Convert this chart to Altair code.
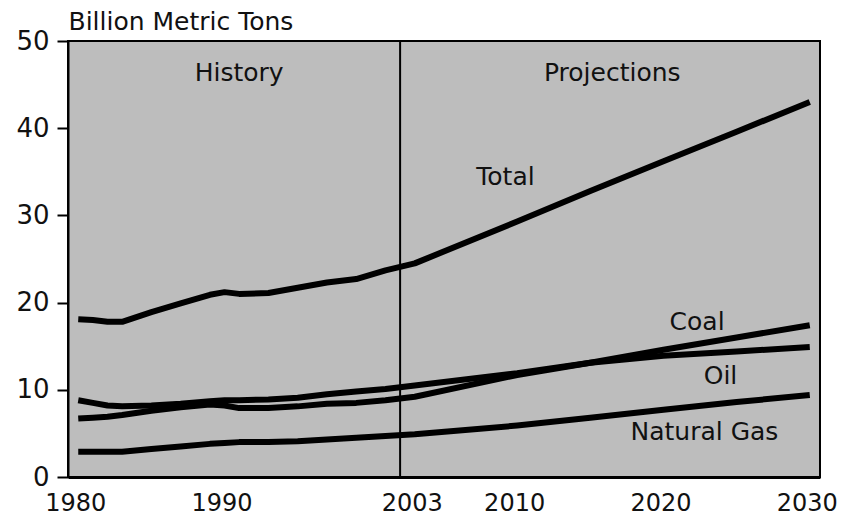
import altair as alt
import pandas as pd

years = [1980, 1981, 1982, 1983, 1985, 1987, 1989, 1990, 1991, 1993, 1995,
         1997, 1999, 2001, 2003, 2010, 2015, 2020, 2025, 2030]
total = [18.1, 18.0, 17.8, 17.8, 18.9, 19.9, 20.9, 21.2, 21.0, 21.1, 21.7,
         22.3, 22.7, 23.7, 24.5, 29.3, 32.8, 36.2, 39.6, 43.0]
coal = [6.7, 6.8, 6.9, 7.1, 7.6, 8.0, 8.3, 8.2, 7.9, 7.9, 8.1,
        8.4, 8.5, 8.8, 9.2, 11.7, 13.1, 14.6, 16.0, 17.4]
oil = [8.8, 8.5, 8.2, 8.1, 8.2, 8.4, 8.7, 8.8, 8.8, 8.9, 9.1,
       9.5, 9.8, 10.1, 10.5, 11.9, 13.1, 13.9, 14.4, 14.9]
gas = [2.9, 2.9, 2.9, 2.9, 3.2, 3.5, 3.8, 3.9, 4.0, 4.0, 4.1,
       4.3, 4.5, 4.7, 4.9, 5.9, 6.8, 7.7, 8.6, 9.4]

tick_years = [1980, 1990, 2003, 2010, 2020, 2030]
y_ticks = [0, 10, 20, 30, 40, 50]
divider_year = [2002]

label_text = ["History", "Projections", "Total", "Coal", "Oil", "Natural Gas"]
label_year = [1991.0, 2016.5, 2009.2, 2022.3, 2023.9, 2022.8]
label_value = [46.3, 46.3, 34.4, 17.8, 11.6, 5.2]

rows = []
for name, vals in [("Total", total), ("Coal", coal), ("Oil", oil), ("Natural Gas", gas)]:
    for yr, v in zip(years, vals):
        rows.append({"year": yr, "value": v, "fuel": name})
df = pd.DataFrame(rows)
labels_df = pd.DataFrame({"text": label_text, "year": label_year, "value": label_value})
div_df = pd.DataFrame({"year": divider_year})

FONT = "DejaVu Sans"

x_scale = alt.Scale(domain=[1979.3, 2030.7], nice=False, zero=False)
y_scale = alt.Scale(domain=[0, 50], nice=False)

x_enc = alt.X("year:Q", scale=x_scale,
              axis=alt.Axis(values=tick_years, format="d", title=None, ticks=False,
                            grid=False, labelFontSize=24, labelFont=FONT,
                            labelColor="#111111", labelPadding=14, labelOffset=-3,
                            domainColor="black", domainWidth=3,
                            labelOverlap=False, labelFlush=False))
y_enc = alt.Y("value:Q", scale=y_scale,
              axis=alt.Axis(values=y_ticks, title="Billion Metric Tons",
                            titleAngle=0, titleX=0, titleY=-7, titleAlign="left",
                            titleBaseline="bottom", titleFont=FONT, titleFontSize=25,
                            titleFontWeight="normal", titleColor="#111111",
                            grid=False, ticks=True, tickSize=11, tickWidth=2,
                            tickColor="black", labelFontSize=26, labelFont=FONT,
                            labelColor="#111111", labelPadding=8,
                            domainColor="black", domainWidth=2))

lines = alt.Chart(df).mark_line(color="black", strokeWidth=6,
                                strokeCap="butt", strokeJoin="round").encode(
    x=x_enc, y=y_enc, detail="fuel:N", order="year:Q"
)

divider = alt.Chart(div_df).mark_rule(color="black", strokeWidth=2).encode(
    x=alt.X("year:Q", scale=x_scale)
)

texts = alt.Chart(labels_df).mark_text(font=FONT, fontSize=25, color="#111111",
                                       align="center", baseline="middle").encode(
    x=alt.X("year:Q", scale=x_scale),
    y=alt.Y("value:Q", scale=y_scale),
    text="text:N"
)

chart = alt.layer(divider, lines, texts).properties(
    width=752, height=436,
    autosize=alt.AutoSizeParams(type="none"),
    padding={"left": 60, "top": 33, "right": 19, "bottom": 38},
    background="white"
).configure_view(stroke="black", strokeWidth=2, fill="#bdbdbd")

chart.save("out.html", embed_options={"renderer": "svg", "actions": False})
